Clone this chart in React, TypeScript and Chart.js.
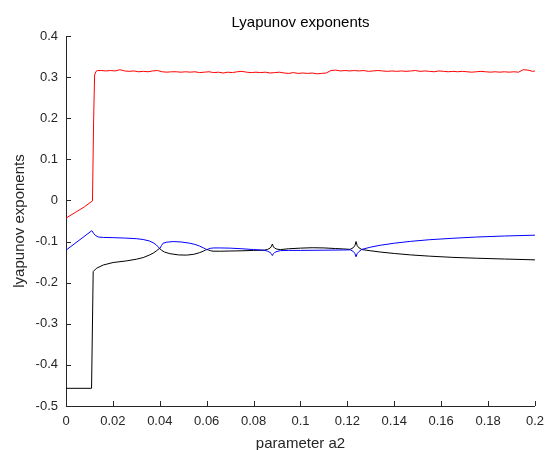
import React, { useEffect, useRef } from "react";
import { Chart, registerables } from "chart.js";

Chart.register(...registerables);

const chartTitle = "Lyapunov exponents";
const xAxisTitle = "parameter a2";
const yAxisTitle = "lyapunov exponents";

const xTicks = [0, 0.02, 0.04, 0.06, 0.08, 0.1, 0.12, 0.14, 0.16, 0.18, 0.2];
const xTickLabels = ["0", "0.02", "0.04", "0.06", "0.08", "0.1", "0.12", "0.14", "0.16", "0.18", "0.2"];
const yTicks = [-0.5, -0.4, -0.3, -0.2, -0.1, 0, 0.1, 0.2, 0.3, 0.4];
const yTickLabels = ["-0.5", "-0.4", "-0.3", "-0.2", "-0.1", "0", "0.1", "0.2", "0.3", "0.4"];

const redX = [
  0, 0.004, 0.008, 0.0113, 0.0118, 0.0122, 0.0128, 0.0135,
  0.015, 0.017, 0.019, 0.021, 0.023, 0.025, 0.027, 0.029, 0.031, 0.033,
  0.035, 0.037, 0.039, 0.041, 0.043, 0.045, 0.047, 0.049, 0.051, 0.053,
  0.055, 0.057, 0.059, 0.061, 0.063, 0.065, 0.067, 0.069, 0.071, 0.073,
  0.075, 0.077, 0.079, 0.081, 0.083, 0.085, 0.087, 0.089, 0.091, 0.093,
  0.095, 0.097, 0.099, 0.101, 0.103, 0.105, 0.107, 0.109, 0.111, 0.113,
  0.115, 0.117, 0.119, 0.121, 0.123, 0.125, 0.127, 0.129, 0.131, 0.133,
  0.135, 0.137, 0.139, 0.141, 0.143, 0.145, 0.147, 0.149, 0.151, 0.153,
  0.155, 0.157, 0.159, 0.161, 0.163, 0.165, 0.167, 0.169, 0.171, 0.173,
  0.175, 0.177, 0.179, 0.181, 0.183, 0.185, 0.187, 0.189, 0.191, 0.193,
  0.195, 0.197, 0.199, 0.2,
];
const redY = [
  -0.043, -0.029, -0.015, -0.001, 0.2, 0.305, 0.314, 0.316,
  0.316, 0.315, 0.316, 0.315, 0.318, 0.315, 0.314, 0.315, 0.313, 0.314,
  0.313, 0.315, 0.316, 0.313, 0.312, 0.313, 0.313, 0.312, 0.313, 0.312,
  0.313, 0.311, 0.312, 0.313, 0.311, 0.312, 0.31, 0.312, 0.311, 0.313,
  0.314, 0.312, 0.311, 0.312, 0.311, 0.312, 0.31, 0.311, 0.312, 0.31,
  0.309, 0.311, 0.309, 0.31, 0.309, 0.31, 0.308, 0.309, 0.31, 0.316,
  0.317, 0.315, 0.316, 0.315, 0.316, 0.315, 0.316, 0.314, 0.315, 0.316,
  0.315, 0.314, 0.315, 0.314, 0.315, 0.314, 0.315, 0.316, 0.314, 0.315,
  0.314, 0.313, 0.315, 0.314, 0.313, 0.314, 0.313, 0.314, 0.313, 0.312,
  0.313, 0.314, 0.313, 0.312, 0.313, 0.312, 0.313, 0.312, 0.313, 0.312,
  0.318, 0.317, 0.314, 0.315,
];

const blueX = [
  0, 0.011, 0.0118, 0.0125, 0.0138, 0.016, 0.02, 0.025, 0.03, 0.0329,
  0.0355, 0.0372, 0.0385, 0.0393, 0.04, 0.0407, 0.0414, 0.043, 0.0457, 0.049,
  0.0528, 0.055, 0.057, 0.0585, 0.0595, 0.06, 0.0607, 0.0615, 0.063, 0.0655,
  0.07, 0.075, 0.08, 0.0845, 0.086, 0.087, 0.0875, 0.088, 0.0885, 0.089,
  0.09, 0.0915, 0.095, 0.1, 0.11, 0.1185, 0.1212, 0.1225, 0.1232, 0.1237,
  0.1242, 0.125, 0.1262, 0.13, 0.134, 0.14, 0.147, 0.155, 0.165, 0.175,
  0.187, 0.2,
];
const blueY = [
  -0.121, -0.0736, -0.08, -0.085, -0.089, -0.09, -0.0905, -0.0915, -0.093, -0.095,
  -0.0985, -0.103, -0.108, -0.113, -0.117, -0.11, -0.104, -0.1015, -0.1, -0.101,
  -0.104, -0.107, -0.111, -0.115, -0.118, -0.12, -0.118, -0.1165, -0.1155, -0.1155,
  -0.116, -0.1175, -0.1195, -0.121, -0.1235, -0.1265, -0.129, -0.134, -0.129, -0.1265,
  -0.124, -0.122, -0.1215, -0.1215, -0.121, -0.1205, -0.12, -0.124, -0.129, -0.137,
  -0.129, -0.124, -0.119, -0.1135, -0.109, -0.104, -0.0995, -0.0955, -0.092, -0.089,
  -0.0865, -0.0845,
];

const blackX = [
  0, 0.0109, 0.0116, 0.013, 0.0159, 0.0201, 0.0258, 0.03, 0.0329, 0.0355,
  0.0372, 0.0385, 0.0393, 0.04, 0.0407, 0.042, 0.0443, 0.048, 0.0514, 0.0545,
  0.057, 0.0585, 0.0595, 0.06, 0.0607, 0.0615, 0.0627, 0.066, 0.07, 0.075,
  0.08, 0.0845, 0.086, 0.087, 0.0875, 0.088, 0.0885, 0.089, 0.09, 0.0915,
  0.095, 0.1, 0.105, 0.11, 0.115, 0.1185, 0.1212, 0.1225, 0.1232, 0.1237,
  0.1242, 0.125, 0.1262, 0.13, 0.134, 0.14, 0.147, 0.155, 0.165, 0.175,
  0.187, 0.2,
];
const blackY = [
  -0.457, -0.457, -0.173, -0.165, -0.157, -0.151, -0.147, -0.143, -0.139, -0.133,
  -0.128, -0.123, -0.119, -0.117, -0.121, -0.1255, -0.1295, -0.1325, -0.133, -0.131,
  -0.127, -0.1235, -0.1205, -0.119, -0.1205, -0.122, -0.1235, -0.1235, -0.123, -0.1225,
  -0.1215, -0.121, -0.119, -0.116, -0.113, -0.106, -0.113, -0.116, -0.1185, -0.1195,
  -0.1175, -0.116, -0.115, -0.1155, -0.117, -0.118, -0.119, -0.115, -0.11, -0.1,
  -0.11, -0.1155, -0.1195, -0.1225, -0.1255, -0.129, -0.1325, -0.1355, -0.1385, -0.1405,
  -0.1425, -0.1445,
];

const zip = (xs: number[], ys: number[]) => xs.map((x, i) => ({ x, y: ys[i] }));

const AXIS_COLOR = "#262626";
const FONT = "'Liberation Sans', Arial, Helvetica, sans-serif";

const decorPlugin = {
  id: "decor",
  afterDraw(chart: any) {
    const { ctx, chartArea, scales } = chart;
    const xs = scales.x;
    const ys = scales.y;
    ctx.save();
    ctx.strokeStyle = AXIS_COLOR;
    ctx.lineWidth = 1;
    ctx.beginPath();
    xs.ticks.forEach((t: any) => {
      const px = Math.round(xs.getPixelForValue(t.value)) + 0.5;
      ctx.moveTo(px, chartArea.bottom);
      ctx.lineTo(px, chartArea.bottom - 5);
    });
    ys.ticks.forEach((t: any) => {
      const py = Math.round(ys.getPixelForValue(t.value)) + 0.5;
      ctx.moveTo(chartArea.left, py);
      ctx.lineTo(chartArea.left + 5, py);
    });
    ctx.stroke();

    const cx = (chartArea.left + chartArea.right) / 2;
    const cy = (chartArea.top + chartArea.bottom) / 2;
    ctx.fillStyle = "#000";
    ctx.font = `15px ${FONT}`;
    ctx.textAlign = "center";
    ctx.textBaseline = "middle";
    ctx.fillText(chartTitle, cx, 23);
    ctx.fillStyle = AXIS_COLOR;
    ctx.fillText(xAxisTitle, cx, 444);
    ctx.translate(20, cy);
    ctx.rotate(-Math.PI / 2);
    ctx.fillText(yAxisTitle, 0, 0);
    ctx.restore();
  },
};

export default function App() {
  const ref = useRef<HTMLCanvasElement | null>(null);
  useEffect(() => {
    if (!ref.current) return;
    const chart = new Chart(ref.current, {
      type: "line",
      data: {
        datasets: [
          { data: zip(redX, redY), borderColor: "#ff0000", borderWidth: 1, pointRadius: 0, tension: 0, fill: false },
          { data: zip(blueX, blueY), borderColor: "#0000ff", borderWidth: 1, pointRadius: 0, tension: 0, fill: false },
          { data: zip(blackX, blackY), borderColor: "#000000", borderWidth: 1, pointRadius: 0, tension: 0, fill: false },
        ],
      },
      options: {
        animation: false,
        responsive: false,
        devicePixelRatio: 1,
        layout: { padding: { top: 36, right: 16, left: 0, bottom: 0 } },
        plugins: { legend: { display: false }, title: { display: false }, tooltip: { enabled: false } },
        scales: {
          x: {
            type: "linear",
            min: 0,
            max: 0.2,
            afterBuildTicks: (s: any) => { s.ticks = xTicks.map((v) => ({ value: v })); },
            afterFit: (s: any) => { s.height = 44; },
            grid: { display: false, drawTicks: false },
            border: { display: true, color: AXIS_COLOR, width: 1 },
            ticks: {
              padding: 8,
              color: AXIS_COLOR,
              font: { family: FONT, size: 13 },
              maxRotation: 0,
              autoSkip: false,
              callback: (v: any) => { const i = xTicks.findIndex((t) => Math.abs(t - v) < 1e-9); return i >= 0 ? xTickLabels[i] : ""; },
            },
          },
          y: {
            type: "linear",
            min: -0.5,
            max: 0.4,
            afterBuildTicks: (s: any) => { s.ticks = yTicks.map((v) => ({ value: v })); },
            afterFit: (s: any) => { s.width = 66; },
            grid: { display: false, drawTicks: false },
            border: { display: true, color: AXIS_COLOR, width: 1 },
            ticks: {
              padding: 8,
              color: AXIS_COLOR,
              font: { family: FONT, size: 13 },
              autoSkip: false,
              callback: (v: any) => { const i = yTicks.findIndex((t) => Math.abs(t - v) < 1e-9); return i >= 0 ? yTickLabels[i] : ""; },
            },
          },
        },
      },
      plugins: [decorPlugin],
    });
    return () => chart.destroy();
  }, []);
  return (
    <div style={{ position: "absolute", left: 0, top: 0, width: 552, height: 450, background: "#fff" }}>
      <canvas ref={ref} width={552} height={450} style={{ display: "block" }} />
    </div>
  );
}
